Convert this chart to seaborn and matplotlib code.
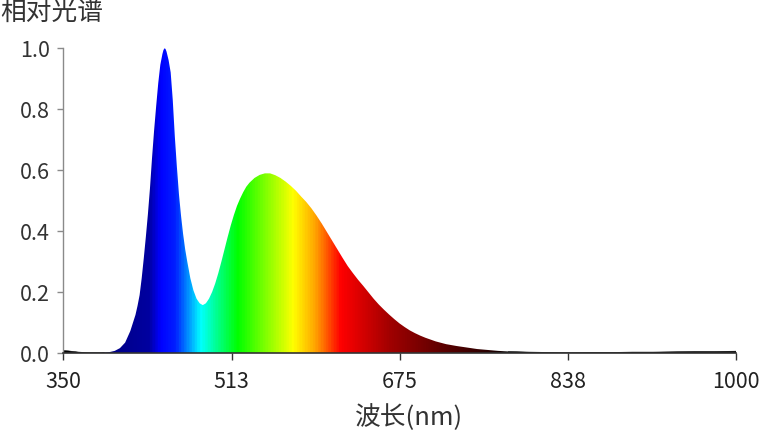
import numpy as np
import pandas as pd
import matplotlib
matplotlib.use("Agg")
import matplotlib.pyplot as plt
from matplotlib.colors import LinearSegmentedColormap
import seaborn as sns

sns.set_theme(style="ticks")
plt.rcParams['font.family'] = ['Noto Sans CJK SC', 'DejaVu Sans']

# spectrum (wavelength nm, relative intensity)
wavelength = [350, 355, 360, 365, 370, 375, 380, 385, 390, 395,
              400, 405, 410, 415, 420, 422, 424, 426, 428, 430,
              432, 434, 436, 438, 440, 442, 444, 446, 447, 448, 449, 450,
              452, 454, 456, 458, 460, 462, 464, 466, 468, 470,
              473, 476, 479, 482, 485, 488, 491, 494, 497, 500, 503,
              506, 509, 512, 515, 518, 521, 524, 527, 530, 535, 540, 545, 550,
              555, 560, 565, 570, 575, 580, 585, 590, 595, 600,
              605, 610, 615, 620, 625, 630, 635, 640, 645, 650,
              655, 660, 665, 670, 675, 680, 685, 690, 695, 700,
              710, 720, 730, 740, 750, 760, 770, 780, 790, 800,
              820, 840, 860, 880, 900, 920, 940, 960, 980, 1000]
relative = [0.008, 0.007, 0.005, 0.003, 0.002, 0.001, 0.001, 0.001, 0.002, 0.003,
            0.007, 0.016, 0.034, 0.072, 0.125, 0.155, 0.190, 0.245, 0.310, 0.380,
            0.455, 0.540, 0.640, 0.730, 0.810, 0.885, 0.945, 0.980, 0.993, 0.999, 0.997, 0.988,
            0.960, 0.920, 0.830, 0.710, 0.610, 0.520, 0.450, 0.390, 0.340, 0.300,
            0.245, 0.205, 0.178, 0.163, 0.157, 0.163, 0.178, 0.200, 0.228, 0.262, 0.300,
            0.340, 0.380, 0.418, 0.452, 0.482, 0.506, 0.527, 0.545, 0.558, 0.574, 0.584, 0.589, 0.589,
            0.583, 0.574, 0.562, 0.548, 0.532, 0.513, 0.495, 0.474, 0.450, 0.424,
            0.396, 0.368, 0.340, 0.312, 0.285, 0.262, 0.240, 0.220, 0.199, 0.178,
            0.159, 0.142, 0.126, 0.111, 0.097, 0.085, 0.074, 0.065, 0.057, 0.050,
            0.038, 0.029, 0.023, 0.018, 0.013, 0.010, 0.007, 0.005, 0.004, 0.003,
            0.002, 0.001, 0.002, 0.002, 0.003, 0.003, 0.004, 0.005, 0.005, 0.006]

x_ticks = [350, 513, 675, 838, 1000]
y_ticks = [0.0, 0.2, 0.4, 0.6, 0.8, 1.0]

# colour of the fill along the wavelength axis
color_stops = [(350, '#000000'), (385, '#000018'), (398, '#000088'),
               (432, '#0000a0'), (443, '#0000ff'), (458, '#0020ff'),
               (470, '#0090ff'), (482, '#00ffff'),
               (518, '#00ff00'), (572, '#ffff00'), (593, '#ffa500'),
               (618, '#ff0000'), (666, '#a00000'), (714, '#600000'),
               (762, '#280000'), (782, '#000000'), (1000, '#000000')]

df = pd.DataFrame({'wl': wavelength, 'rel': relative})

cmap = LinearSegmentedColormap.from_list(
    'spec', [((w - 350) / 650, c) for w, c in color_stops])

fig = plt.figure(figsize=(7.6, 4.35), dpi=100)
ax = fig.add_axes([63 / 760, 1 - 354 / 435, 673 / 760, 305 / 435])

poly = ax.fill_between(df['wl'], df['rel'], 0, color='none', lw=0)
grad = np.linspace(0, 1, 1400).reshape(1, -1)
img = ax.imshow(grad, cmap=cmap, aspect='auto', extent=[350, 1000, 0, 1.0],
                origin='lower', interpolation='bilinear')
clip = poly.get_paths()[0]
img.set_clip_path(clip, transform=ax.transData)

# baseline noise drawn as thin black line
low = df[df['wl'] <= 390]
high = df[df['wl'] >= 780]
sns.lineplot(data=low, x='wl', y='rel', color='black', lw=0.4, ax=ax)
sns.lineplot(data=high, x='wl', y='rel', color='black', lw=0.4, ax=ax)

ax.set_xlim(350, 1000)
ax.set_ylim(0, 1.0)
ax.set_xticks(x_ticks)
ax.set_xticklabels([str(t) for t in x_ticks])
ax.set_yticks(y_ticks)
ax.set_yticklabels([f'{t:.1f}' for t in y_ticks])
ax.set_xlabel('')
ax.set_ylabel('')

sns.despine(ax=ax)
ax.spines['left'].set_color('#8a8a8a')
ax.spines['left'].set_linewidth(1.0)
ax.spines['bottom'].set_color('#333333')
ax.spines['bottom'].set_linewidth(1.2)
ax.tick_params(axis='y', colors='#8a8a8a', labelcolor='#333333',
               length=4.5, width=1.0, pad=5, labelsize=15.5)
ax.tick_params(axis='x', colors='#333333', labelcolor='#222222',
               length=5, width=1.0, pad=7, labelsize=15.5)

fig.text(0.0, 1 - 14 / 435, '相对光谱', fontsize=18.5, color='#333333',
         ha='left', va='center')
fig.text(409 / 760, 1 - 418 / 435, '波长(nm)', fontsize=18.5, color='#333333',
         ha='center', va='center')

fig.savefig('out.png', dpi=100)
